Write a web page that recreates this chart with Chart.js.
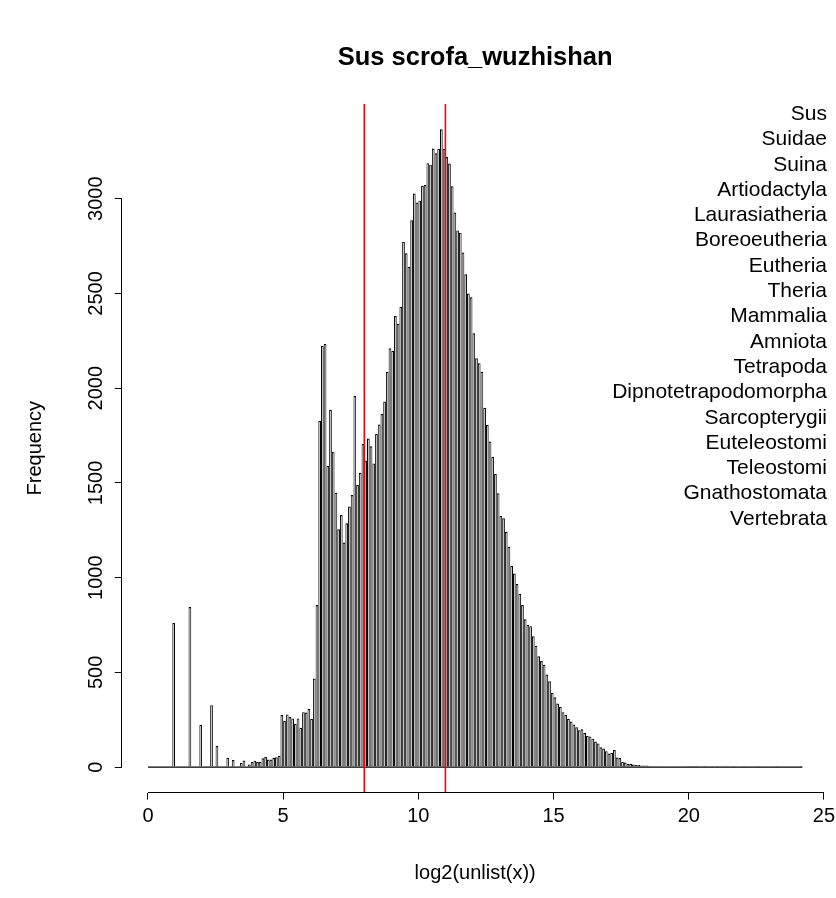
<!DOCTYPE html>
<html>
<head>
<meta charset="utf-8">
<script src="https://cdn.jsdelivr.net/npm/chart.js@4.4.1/dist/chart.umd.min.js"></script>
<style>
  html, body { margin: 0; padding: 0; background: #ffffff; }
  canvas { display: block; }
</style>
</head>
<body>
<canvas id="c" width="836" height="898"></canvas>
<script>
// ---------------- data ----------------
const titleText = 'Sus scrofa_wuzhishan';
const xLabel = 'log2(unlist(x))';
const yLabel = 'Frequency';

const binStart = 0;
const binWidth = 0.1;
// histogram counts, one per 0.1-wide bin starting at 0
const counts = [
  0, 0, 0, 0, 0, 0, 0, 0, 0, 760,                 // 0.0 - 1.0
  0, 0, 0, 0, 0, 845, 0, 0, 0, 223,               // 1.0 - 2.0
  0, 0, 0, 327, 0, 111, 0, 0, 0, 49,              // 2.0 - 3.0
  0, 37, 0, 0, 22, 35, 0, 13, 27, 34,             // 3.0 - 4.0
  27, 28, 47, 53, 40, 40, 49, 52, 60, 275,        // 4.0 - 5.0
  243, 278, 264, 257, 229, 257, 208, 290, 288, 306, // 5.0 - 6.0
  255, 467, 855, 1828, 2224, 2233, 1589, 1886, 1665, 1448, // 6.0 - 7.0
  1255, 1331, 1185, 1287, 1375, 1436, 1959, 1489, 1554, 1705, // 7.0 - 8.0
  1617, 1734, 1693, 1603, 1758, 1808, 1864, 1930, 2087, 2211, // 8.0 - 9.0
  2198, 2381, 2340, 2430, 2773, 2712, 2641, 2886, 3028, 2980, // 9.0 - 10.0
  2990, 3068, 3072, 3188, 3180, 3265, 3240, 3263, 3367, 3264, // 10.0 - 11.0
  3220, 3186, 3066, 2927, 2833, 2821, 2716, 2601, 2500, 2480, // 11.0 - 12.0
  2290, 2158, 2131, 2087, 1897, 1806, 1718, 1638, 1547, 1445, // 12.0 - 13.0
  1325, 1313, 1242, 1163, 1061, 1022, 966, 915, 855, 780,     // 13.0 - 14.0
  750, 744, 690, 640, 585, 560, 540, 489, 453, 392,           // 14.0 - 15.0
  368, 335, 318, 290, 275, 255, 240, 225, 210, 195,           // 15.0 - 16.0
  200, 180, 165, 162, 150, 135, 125, 105, 98, 84,             // 16.0 - 17.0
  72, 75, 90, 50, 48, 28, 24, 18, 17, 13,                     // 17.0 - 18.0
  12, 11, 9, 9, 8, 6, 5, 5, 4, 4,                             // 18.0 - 19.0
  3, 3, 3, 2, 3, 2, 2, 2, 1, 2,                               // 19.0 - 20.0
  1, 1, 1, 1, 0, 1, 1, 0, 1, 0,                               // 20.0 - 21.0
  1, 0, 0, 1, 0, 0, 1, 0, 0, 0,                               // 21.0 - 22.0
  1, 0, 0, 0, 0, 1, 0, 0, 0, 0,                               // 22.0 - 23.0
  0, 0, 1, 0, 0, 0, 0, 0, 0, 0,                               // 23.0 - 24.0
  0, 1                                                        // 24.0 - 24.2
];

const xTicks = [0, 5, 10, 15, 20, 25];
const yTicks = [0, 500, 1000, 1500, 2000, 2500, 3000];
const markerLines = [8, 11];
const taxa = [
  'Sus', 'Suidae', 'Suina', 'Artiodactyla', 'Laurasiatheria', 'Boreoeutheria',
  'Eutheria', 'Theria', 'Mammalia', 'Amniota', 'Tetrapoda',
  'Dipnotetrapodomorpha', 'Sarcopterygii', 'Euteleostomi', 'Teleostomi',
  'Gnathostomata', 'Vertebrata'
];

// ---------------- derived ----------------
const barPoints = counts.map((c, i) => ({ x: binStart + (i + 0.5) * binWidth, y: c }));
const xLo = binStart, xHi = binStart + counts.length * binWidth;
const xPad = 0.04 * (xHi - xLo);
const yMaxData = Math.max(...counts);
const yMin = -0.04 * yMaxData, yMax = 1.04 * yMaxData;

const FONT = "'Liberation Sans', Arial, Helvetica, sans-serif";
Chart.defaults.font.family = FONT;
Chart.defaults.font.size = 20;
Chart.defaults.color = '#000000';

function alignPx(p, w) { const h = w / 2; return Math.round(p - h) + h; }

const rDecor = {
  id: 'rDecor',
  afterDraw(chart) {
    const { ctx, chartArea: ca, scales: { x, y } } = chart;
    ctx.save();
    ctx.strokeStyle = '#000000';
    ctx.lineWidth = 1;
    ctx.beginPath();
    const yb = alignPx(ca.bottom, 1);
    ctx.moveTo(x.getPixelForValue(xTicks[0]), yb);
    ctx.lineTo(x.getPixelForValue(xTicks[xTicks.length - 1]), yb);
    const xl = alignPx(ca.left, 1);
    ctx.moveTo(xl, y.getPixelForValue(yTicks[0]));
    ctx.lineTo(xl, y.getPixelForValue(yTicks[yTicks.length - 1]));
    ctx.stroke();

    ctx.fillStyle = '#000000';
    ctx.font = '21px ' + FONT;
    ctx.textAlign = 'right';
    ctx.textBaseline = 'middle';
    taxa.forEach((t, i) => {
      ctx.fillText(t, ca.right - 1.5, ca.top + 10.5 + i * 25.3);
    });
    ctx.restore();
  }
};

const datasets = [
  {
    type: 'bar',
    data: barPoints,
    backgroundColor: '#c8c8c8',
    borderColor: '#000000',
    borderWidth: { top: 1.2, left: 1, right: 1, bottom: 0 },
    barPercentage: 1,
    categoryPercentage: 1,
    inflateAmount: 0,
    order: 3
  },
  {
    type: 'line',
    data: [{ x: xLo, y: 0 }, { x: xHi, y: 0 }],
    borderColor: '#000000',
    borderWidth: 1.2,
    pointRadius: 0,
    order: 2
  }
];
markerLines.forEach(v => {
  datasets.push({
    type: 'line',
    data: [{ x: v, y: yMin }, { x: v, y: yMax }],
    borderColor: '#ff0000',
    borderWidth: 1.6,
    pointRadius: 0,
    order: 0
  });
});

new Chart(document.getElementById('c'), {
  type: 'bar',
  data: { datasets },
  options: {
    responsive: false,
    maintainAspectRatio: false,
    animation: false,
    events: [],
    layout: { padding: { left: 0, right: 7.5, top: 0, bottom: 0 } },
    plugins: {
      legend: { display: false },
      tooltip: { enabled: false },
      title: {
        display: true,
        text: titleText,
        fullSize: false,
        color: '#000000',
        font: { size: 25.5, weight: 'bold', lineHeight: 1.2 },
        padding: { top: 43, bottom: 30.1 }
      }
    },
    scales: {
      x: {
        type: 'linear',
        min: xLo - xPad,
        max: xHi + xPad,
        offset: false,
        afterBuildTicks: s => { s.ticks = xTicks.map(v => ({ value: v })); },
        afterFit: s => { s.height = 105.4; s.paddingLeft = 0; s.paddingRight = 0; },
        grid: { offset: false, drawOnChartArea: false, drawTicks: true, tickLength: 7, color: '#000000', lineWidth: 1 },
        border: { display: false },
        ticks: { autoSkip: false, maxRotation: 0, minRotation: 0, padding: 5, color: '#000000', font: { size: 20 }, callback: v => String(v) },
        title: { display: true, text: xLabel, color: '#000000', font: { size: 20 }, padding: { top: 0, bottom: 13 } }
      },
      y: {
        type: 'linear',
        min: yMin,
        max: yMax,
        afterBuildTicks: s => { s.ticks = yTicks.map(v => ({ value: v })); },
        afterFit: s => { s.width = 121.8; s.paddingTop = 0; s.paddingBottom = 0; },
        grid: { drawOnChartArea: false, drawTicks: true, tickLength: 7, color: '#000000', lineWidth: 1 },
        border: { display: false },
        ticks: { autoSkip: false, minRotation: 90, maxRotation: 90, crossAlign: 'center', padding: -4.4, color: '#000000', font: { size: 20 }, callback: v => String(v) },
        title: { display: true, text: yLabel, color: '#000000', font: { size: 20 }, padding: { top: 23, bottom: 0 } }
      }
    }
  },
  plugins: [rDecor]
});
</script>
</body>
</html>
